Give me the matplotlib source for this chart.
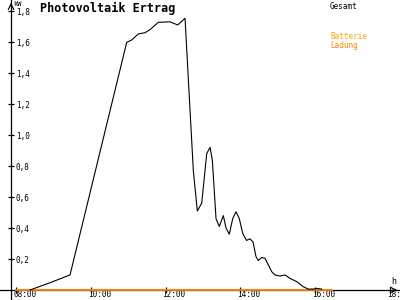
import matplotlib.pyplot as plt
from matplotlib.ticker import FixedLocator
from matplotlib.transforms import ScaledTranslation

# Gesamt (kW) over time of day (hours)
gesamt_t = [8.374, 8.909, 9.444, 10.960, 11.094, 11.270, 11.449, 11.583, 11.805,
            12.118, 12.324, 12.519, 12.741, 12.848, 12.965, 13.099, 13.187, 13.249,
            13.348, 13.436, 13.543, 13.615, 13.703, 13.794, 13.882, 13.971, 14.061,
            14.163, 14.257, 14.337, 14.417, 14.479, 14.570, 14.658, 14.837, 14.925,
            15.059, 15.193, 15.326, 15.505, 15.682, 15.813, 15.949, 16.040, 16.174]
gesamt_kw = [0.0, 0.047, 0.097, 1.598, 1.613, 1.652, 1.66, 1.68, 1.727,
             1.73, 1.71, 1.753, 0.77, 0.51, 0.56, 0.88, 0.92, 0.84,
             0.46, 0.41, 0.48, 0.40, 0.36, 0.46, 0.505, 0.46, 0.366,
             0.32, 0.33, 0.31, 0.215, 0.19, 0.21, 0.205, 0.118, 0.097,
             0.09, 0.097, 0.075, 0.054, 0.021, 0.006, 0.006, 0.01, 0.006]

# Batterie Ladung
ladung_t = [8.0, 16.44]
ladung_kw = [0.0, 0.0]

y_ticks = [0.2, 0.4, 0.6, 0.8, 1.0, 1.2, 1.4, 1.6, 1.8]
x_ticks = [8, 10, 12, 14, 16, 18]
x_labels = ['08:00', '10:00', '12:00', '14:00', '16:00', '18:00']

mono = 'DejaVu Sans Mono'
y_axis_at = 7.866


def draw():
    fig = plt.figure(figsize=(4, 3), dpi=100)
    ax = fig.add_axes([0, 0, 1, 1])
    ax.set_xlim(7.572, 18.267)
    ax.set_ylim(-0.0645, 1.871)

    ax.plot(ladung_t, ladung_kw, color='#ff8000', lw=1.3, zorder=3)
    ax.plot(gesamt_t, gesamt_kw, color='black', lw=0.8, zorder=4)

    for s in ['top', 'right']:
        ax.spines[s].set_visible(False)
    ax.spines['left'].set_position(('data', y_axis_at))
    ax.spines['bottom'].set_position(('data', 0))
    ax.spines['left'].set_linewidth(0.9)
    ax.spines['bottom'].set_linewidth(0.9)

    ax.xaxis.set_major_locator(FixedLocator(x_ticks))
    ax.set_xticklabels(x_labels)
    ax.yaxis.set_major_locator(FixedLocator(y_ticks))
    ax.set_yticklabels([f'{v:.1f}'.replace('.', ',') for v in y_ticks])

    ax.tick_params(axis='x', direction='inout', length=5, width=0.9,
                   labelsize=5.5, pad=-2.5)
    ax.tick_params(axis='y', direction='inout', length=5, width=0.9,
                   labelsize=5.5, pad=-6)
    for lbl in ax.get_yticklabels():
        lbl.set_horizontalalignment('left')
        lbl.set_fontfamily(mono)
    shift = ScaledTranslation(-3 / 100, 0, fig.dpi_scale_trans)
    for lbl in ax.get_xticklabels():
        lbl.set_fontfamily(mono)
        lbl.set_horizontalalignment('left')
        lbl.set_transform(lbl.get_transform() + shift)

    # axis arrows
    ax.annotate('', xy=(1.0, 0), xycoords=('axes fraction', 'data'),
                xytext=(0.975, 0), textcoords=('axes fraction', 'data'),
                arrowprops=dict(arrowstyle='->', lw=0.8, color='black'))
    ax.annotate('', xy=(y_axis_at, 1.0), xycoords=('data', 'axes fraction'),
                xytext=(y_axis_at, 0.97), textcoords=('data', 'axes fraction'),
                arrowprops=dict(arrowstyle='->', lw=0.8, color='black'))

    ax.text(7.92, 1.845, 'kW', fontsize=5, family=mono, va='center')
    ax.text(18.02, 0.055, 'h', fontsize=6, family=mono, va='center')
    ax.text(0.1, 0.973, 'Photovoltaik Ertrag', transform=ax.transAxes,
            fontsize=8.5, family=mono, fontweight='bold', va='center')

    ax.text(0.825, 0.978, 'Gesamt', transform=ax.transAxes, fontsize=5.5,
            family=mono, color='black', va='center')
    ax.text(0.825, 0.878, 'Batterie', transform=ax.transAxes, fontsize=5.5,
            family=mono, color='#ffa500', va='center')
    ax.text(0.825, 0.85, 'Ladung', transform=ax.transAxes, fontsize=5.5,
            family=mono, color='#ff8000', va='center')

    fig.savefig('out.png', dpi=100)


if __name__ == '__main__':
    draw()
